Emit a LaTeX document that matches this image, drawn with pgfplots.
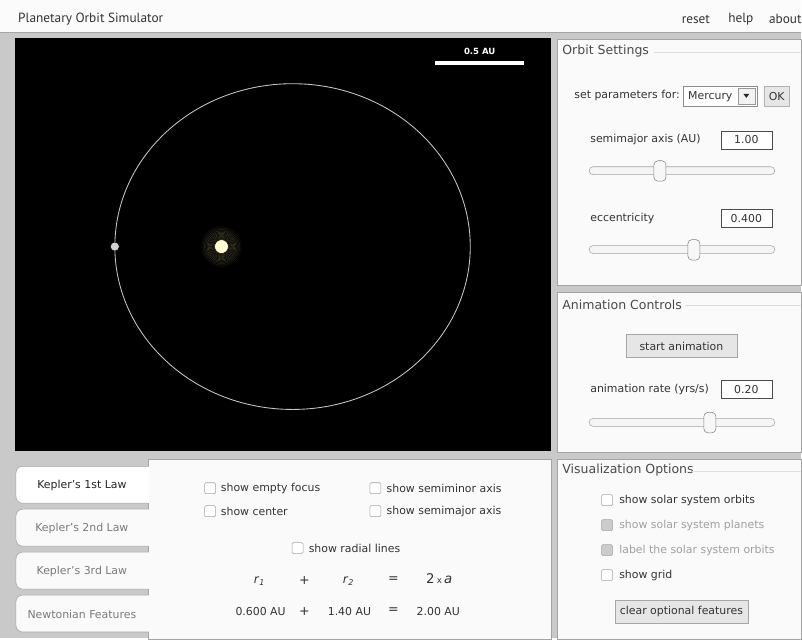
\documentclass[border=0pt]{standalone}
\usepackage{fontspec}
\setmainfont{DejaVu Sans}
\newfontfamily\titlefont{PT Sans}
\usepackage{pgfplots}
\pgfplotsset{compat=1.18}

\definecolor{bg}{HTML}{C9C9C9}
\definecolor{topbar}{HTML}{FBFBFB}
\definecolor{panel}{HTML}{FAFAFA}
\definecolor{pborder}{HTML}{A4A4A4}
\definecolor{txt}{HTML}{333333}
\definecolor{ttl}{HTML}{4A4A4A}
\definecolor{dis}{HTML}{A0A0A0}
\definecolor{tabtxt}{HTML}{7A7A7A}
\definecolor{btn}{HTML}{E6E6E6}
\definecolor{orbit}{HTML}{C4C4C4}
\definecolor{planet}{HTML}{D2D2D2}
\definecolor{sun}{HTML}{FFFCD2}
\definecolor{halo}{HTML}{FFF8B0}

% small widgets, all in screen pixels (y downwards)
\newcommand\cbox[3][white]{\draw[pborder,fill=#1,rounded corners=1pt] (#2-5.5,#3-5.5) rectangle ++(11,11);}
\newcommand\tbox[2]{\draw[fill=white,draw=black!70] (722,#1-9) rectangle (773,#1+9);
  \node[txt] at (747.5,#1) {#2};}
\newcommand\slider[2]{\draw[pborder,fill=black!4,rounded corners=3pt] (590,#1-4) rectangle (776,#1+4);
  \draw[black!50,fill=black!3,rounded corners=3pt] (#2-6,#1-10) rectangle (#2+6,#1+10.5);}
\newcommand\ptitle[3]{\node[ttl,anchor=west,inner sep=0pt,font=\fontsize{9.4}{11}\selectfont] at (563,#1) {#2};
  \draw[black!13] (#3,#1+1) -- (802,#1+1);}
\pgfplotsset{halo/.style={only marks, mark=*, mark size=#1, mark options={draw=none, fill=halo, fill opacity=0.05}}}

\begin{document}
\begin{tikzpicture}[font=\fontsize{8.2}{10}\selectfont]
\begin{scope}[x=0.75pt,y=-0.75pt]
\useasboundingbox (0,0) rectangle (802,639);
\fill[bg] (0,0) rectangle (802,639);
\fill[topbar] (0,0) rectangle (802,32);
\draw[black!35] (0,32) -- (802,32);
\node[anchor=west,inner sep=0pt,txt,font=\titlefont\fontsize{10}{11}\selectfont] at (18,19) {Planetary Orbit Simulator};
\node[txt,font=\titlefont\fontsize{10}{11}\selectfont] at (697,19) {reset};
\node[txt,font=\titlefont\fontsize{10}{11}\selectfont] at (742,19) {help};
\node[txt,font=\titlefont\fontsize{10}{11}\selectfont,anchor=west,inner sep=0pt] at (770,19) {about};
\end{scope}

\begin{axis}[at={(11.25pt,-339pt)}, anchor=south west, scale only axis,
  width=402.75pt, height=310.5pt,
  xmin=-1.562, xmax=1.455, ymin=-1.152, ymax=1.174,
  ticks=none, axis line style={draw=none},
  axis background/.style={fill=black}]
% orbit: a = 1 AU, e = 0.400, centre at origin
\draw[orbit, line width=0.65pt] (axis cs:0,0) ellipse [x radius=1, y radius=0.9165];
% sun glow at the focus
\addplot[halo=15.5pt] coordinates {(-0.4,0)};
\addplot[halo=14.4pt] coordinates {(-0.4,0)};
\addplot[halo=13.3pt] coordinates {(-0.4,0)};
\addplot[halo=12.3pt] coordinates {(-0.4,0)};
\addplot[halo=11.3pt] coordinates {(-0.4,0)};
\addplot[halo=10.4pt] coordinates {(-0.4,0)};
\addplot[halo=9.6pt] coordinates {(-0.4,0)};
\addplot[halo=8.8pt] coordinates {(-0.4,0)};
\addplot[halo=8.1pt] coordinates {(-0.4,0)};
\addplot[halo=7.4pt] coordinates {(-0.4,0)};
\addplot[halo=6.8pt] coordinates {(-0.4,0)};
\addplot[halo=6.2pt] coordinates {(-0.4,0)};
\addplot[halo=5.7pt] coordinates {(-0.4,0)};
\addplot[only marks, mark=*, mark size=5.2pt, mark options={draw=none, fill=sun}] coordinates {(-0.4,0)};
% planet at perihelion
\addplot[only marks, mark=*, mark size=3.4pt, mark options={draw=none, fill=planet}] coordinates {(-1,0)};
% scale bar
\addplot[white, line width=3pt] coordinates {(0.803,1.034) (1.303,1.034)};
\node[white, font=\bfseries\fontsize{6.4}{7}\selectfont] at (axis cs:1.053,1.096) {0.5 AU};
\end{axis}

\begin{scope}[x=0.75pt,y=-0.75pt]
% ---- Orbit Settings
\draw[pborder,fill=panel] (558,39) rectangle (803,286);
\ptitle{51}{Orbit Settings}{655}
\node[txt,anchor=west,inner sep=0pt] at (575,96) {set parameters for:};
\draw[black!45,fill=white] (684,86) rectangle (758,106);
\node[txt,anchor=west,inner sep=0pt] at (689,96.5) {Mercury};
\draw[black!40,fill=black!5] (739,88) rectangle (756,104);
\fill[black!85] (744.5,94) -- (750.5,94) -- (747.5,98) -- cycle;
\draw[black!30,fill=btn] (765,86) rectangle (791,106);
\node[txt] at (778,96.5) {OK};
\node[txt,anchor=west,inner sep=0pt] at (591,140) {semimajor axis (AU)};
\tbox{140}{1.00}
\slider{171}{661}
\node[txt,anchor=west,inner sep=0pt] at (591,219) {eccentricity};
\tbox{219}{0.400}
\slider{250}{695}

% ---- Animation Controls
\draw[pborder,fill=panel] (558,293) rectangle (803,453);
\ptitle{305}{Animation Controls}{686}
\draw[black!35,fill=btn] (627,335) rectangle (738,358);
\node[txt] at (682.5,346.5) {start animation};
\node[txt,anchor=west,inner sep=0pt] at (591,390) {animation rate (yrs/s)};
\tbox{390}{0.20}
\slider{423}{711}

% ---- Visualization Options
\draw[pborder,fill=panel] (558,460) rectangle (803,640);
\ptitle{471}{Visualization Options}{693}
\cbox{608}{501}\node[txt,anchor=west,inner sep=0pt] at (620,501) {show solar system orbits};
\cbox[black!20]{608}{526}\node[dis,anchor=west,inner sep=0pt] at (620,526) {show solar system planets};
\cbox[black!20]{608}{551}\node[dis,anchor=west,inner sep=0pt] at (620,551) {label the solar system orbits};
\cbox{608}{576}\node[txt,anchor=west,inner sep=0pt] at (620,576) {show grid};
\draw[black!35,fill=btn] (616,601) rectangle (749,624);
\node[txt] at (682.5,612.5) {clear optional features};

% ---- Kepler's 1st Law panel
\draw[pborder,fill=panel] (148,460) rectangle (552,640);
\draw[pborder,fill=panel,rounded corners=5pt] (149,510) -- (16,510) -- (16,547) -- (149,547);
\draw[pborder,fill=panel,rounded corners=5pt] (149,553) -- (16,553) -- (16,590) -- (149,590);
\draw[pborder,fill=panel,rounded corners=5pt] (149,596) -- (16,596) -- (16,633) -- (149,633);
\draw[pborder,fill=white,rounded corners=5pt] (149,467) -- (16,467) -- (16,504) -- (149,504);
\fill[white] (147,467.5) rectangle (149.5,503.5);
\node[black!85] at (82,486) {Kepler's 1st Law};
\node[tabtxt] at (82,529) {Kepler's 2nd Law};
\node[tabtxt] at (82,572) {Kepler's 3rd Law};
\node[tabtxt] at (82,615) {Newtonian Features};

\cbox{210.5}{489}\node[txt,anchor=west,inner sep=0pt] at (221,489) {show empty focus};
\cbox{376}{489}\node[txt,anchor=west,inner sep=0pt] at (387,489) {show semiminor axis};
\cbox{210.5}{512}\node[txt,anchor=west,inner sep=0pt] at (221,512) {show center};
\cbox{376}{512}\node[txt,anchor=west,inner sep=0pt] at (387,512) {show semimajor axis};
\cbox{298}{549}\node[txt,anchor=west,inner sep=0pt] at (309,549) {show radial lines};

\node[txt,font=\fontsize{9}{10}\selectfont] at (260,582) {\textit{r}\textsubscript{\textit{1}}};
\node[txt,font=\fontsize{9.5}{10}\selectfont] at (305,581) {+};
\node[txt,font=\fontsize{9}{10}\selectfont] at (349,582) {\textit{r}\textsubscript{\textit{2}}};
\node[txt,font=\fontsize{9.5}{10}\selectfont] at (394,581) {=};
\node[txt,font=\fontsize{10}{11}\selectfont] at (440,580) {2\,{\fontsize{6.5}{7}\selectfont x}\,\textit{a}};
\node[txt] at (261,612) {0.600 AU};
\node[txt,font=\fontsize{9.5}{10}\selectfont] at (305,612) {+};
\node[txt] at (350,612) {1.40 AU};
\node[txt,font=\fontsize{9.5}{10}\selectfont] at (394,612) {=};
\node[txt] at (439,612) {2.00 AU};
\end{scope}
\end{tikzpicture}
\end{document}
